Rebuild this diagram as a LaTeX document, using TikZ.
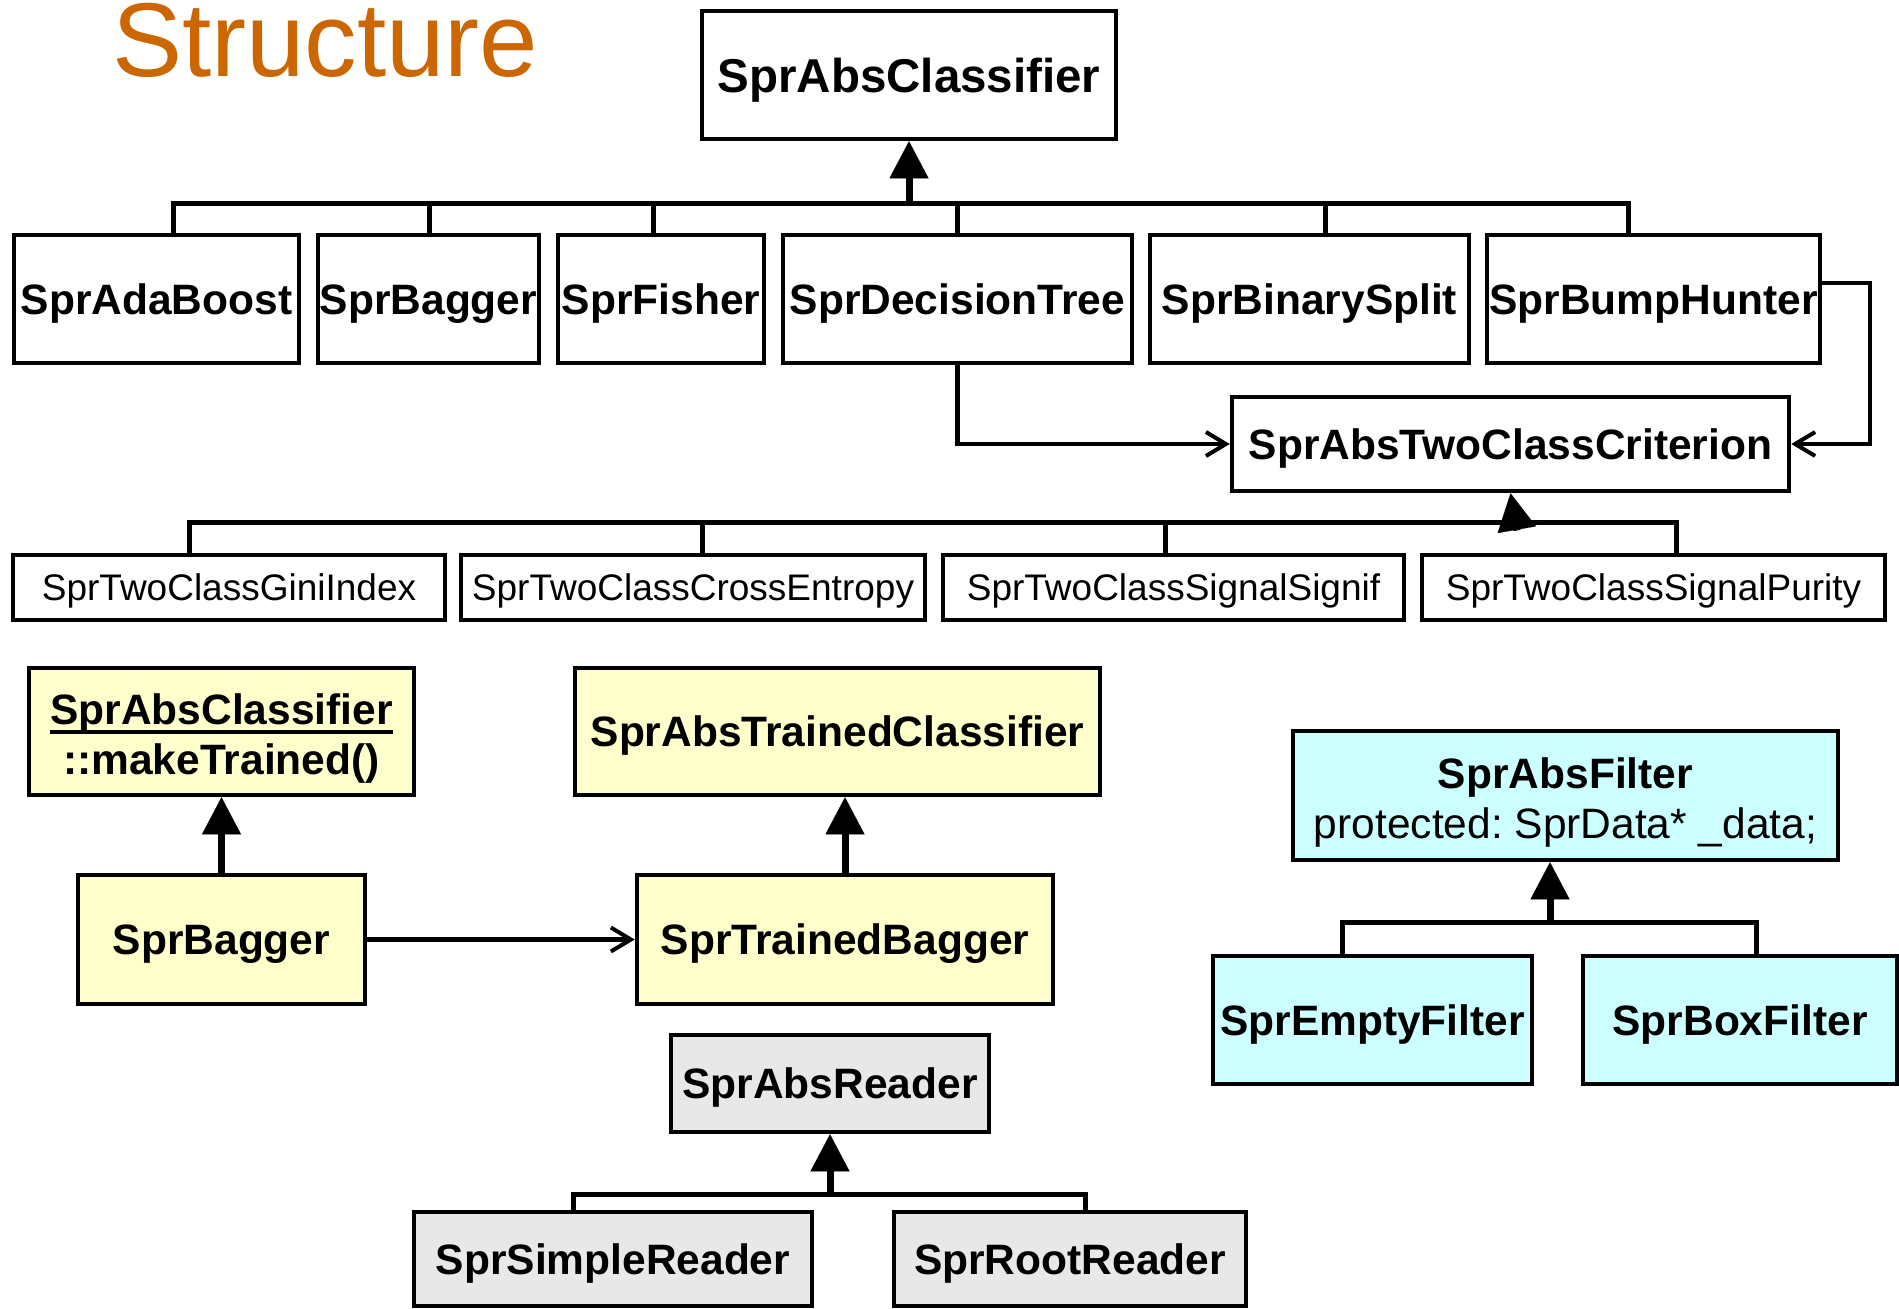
\documentclass[tikz,border=0pt]{standalone}
\usepackage{fontspec}
\setmainfont{Liberation Sans}
\usetikzlibrary{arrows.meta}
\frenchspacing
\definecolor{titleor}{RGB}{204,102,0}
\definecolor{yel}{RGB}{255,255,204}
\definecolor{cyn}{RGB}{204,255,255}
\definecolor{gry}{RGB}{232,232,232}
\newcommand\ulbox[1]{\setbox0\hbox{#1}\rlap{\rule[-9pt]{\wd0}{4pt}}\box0}
\tikzset{
  box/.style={draw, line width=4.5pt, inner sep=0pt, fill=white},
  big/.style={font=\fontsize{42.5}{50}\selectfont\bfseries, text height=30.4pt, text depth=0pt},
  bigml/.style={font=\fontsize{42.5}{50}\selectfont, align=center, text height=86.4pt, text depth=0pt},
  small/.style={font=\fontsize{37}{44}\selectfont, text height=26.5pt, text depth=0pt},
  conn/.style={line width=5pt, line join=miter},
  inh/.style={line width=7pt, -{Triangle[length=37pt,width=39pt,line width=0.1pt]}},
  assoc/.style={line width=4.5pt, line join=miter, -{Straight Barb[length=20pt,width=24pt,line width=4pt]}},
}
\begin{document}
\begin{tikzpicture}[x=1pt,y=-1pt]
\useasboundingbox (0,0) rectangle (1899,1309);

% title
\node[anchor=base west, inner sep=0pt, font=\fontsize{105}{120}\selectfont, text=titleor] (title) at (112,76) {Structure};

% top classifier hierarchy
\node[box, big, font=\fontsize{47.5}{56}\selectfont\bfseries, text height=34pt, minimum width=414pt, minimum height=128pt] (absclf) at (909,75) {SprAbsClassifier};
\node[box, big, minimum width=285pt, minimum height=128pt] (ada)  at (156.5,299) {SprAdaBoost};
\node[box, big, minimum width=221pt, minimum height=128pt] (bag)  at (428.5,299) {SprBagger};
\node[box, big, minimum width=206pt, minimum height=128pt] (fis)  at (661,299) {SprFisher};
\node[box, big, minimum width=349pt, minimum height=128pt] (dt)   at (957.5,299) {SprDecisionTree};
\node[box, big, minimum width=319pt, minimum height=128pt] (bin)  at (1309.5,299) {SprBinarySplit};
\node[box, big, minimum width=333pt, minimum height=128pt] (bump) at (1653.5,299) {SprBumpHunter};

\coordinate (j1) at (909,203.5);
\coordinate (ta) at (173,203.5);
\coordinate (tb) at (429,203.5);
\coordinate (tf) at (653,203.5);
\coordinate (td) at (957.5,203.5);
\coordinate (tn) at (1325,203.5);
\coordinate (tu) at (1628,203.5);
\draw[conn] (ta |- ada.north) -- (ta) -- (tu) -- (tu |- bump.north);
\draw[conn] (tb) -- (tb |- bag.north);
\draw[conn] (tf) -- (tf |- fis.north);
\draw[conn] (td) -- (td |- dt.north);
\draw[conn] (tn) -- (tn |- bin.north);
\draw[inh] (j1) -- (absclf.south);

% criterion
\node[box, big, minimum width=557pt, minimum height=94pt] (crit) at (1510.5,444) {SprAbsTwoClassCriterion};
\coordinate (rc) at (1870,444);
\draw[assoc] (dt.south) |- (crit.west);
\draw[assoc] ([yshift=16pt]bump.east) -| (rc) -- (crit.east);

\node[box, small, minimum width=432pt, minimum height=65pt] (gini)   at (229,587.5) {SprTwoClassGiniIndex};
\node[box, small, minimum width=464pt, minimum height=65pt] (cross)  at (693,587.5) {SprTwoClassCrossEntropy};
\node[box, small, minimum width=461pt, minimum height=65pt] (signif) at (1173.5,587.5) {SprTwoClassSignalSignif};
\node[box, small, minimum width=463pt, minimum height=65pt] (purity) at (1653.5,587.5) {SprTwoClassSignalPurity};

\coordinate (j2) at (1517,522.5);
\coordinate (sa) at (189,522.5);
\coordinate (sb) at (702,522.5);
\coordinate (sc) at (1165,522.5);
\coordinate (sd) at (1676,522.5);
\draw[conn] (sa |- gini.north) -- (sa) -- (sd) -- (sd |- purity.north);
\draw[conn] (sb) -- (sb |- cross.north);
\draw[conn] (sc) -- (sc |- signif.north);
\draw[inh] ([yshift=-8pt]j2) -- (crit.south);

% yellow: bagger / trained
\node[box, fill=yel, bigml, font=\fontsize{42.5}{50}\selectfont\bfseries, minimum width=385pt, minimum height=127pt] (mk) at (221.5,731.5) {\ulbox{SprAbsClassifier}\\::makeTrained()};
\node[box, fill=yel, big, minimum width=525pt, minimum height=127pt] (atc) at (837.5,731.5) {SprAbsTrainedClassifier};
\node[box, fill=yel, big, minimum width=287pt, minimum height=129pt] (sbag) at (221.5,939.5) {SprBagger};
\node[box, fill=yel, big, minimum width=416pt, minimum height=129pt] (tbag) at (845,939.5) {SprTrainedBagger};
\draw[inh] (sbag.north) -- (mk.south);
\draw[inh] (tbag.north) -- (tbag.north |- atc.south);
\draw[assoc] (sbag.east) -- (tbag.west);

% gray: readers
\node[box, fill=gry, big, minimum width=318pt, minimum height=97pt] (ard) at (830,1083.5) {SprAbsReader};
\node[box, fill=gry, big, minimum width=398pt, minimum height=94pt] (simple) at (613,1259) {SprSimpleReader};
\node[box, fill=gry, big, minimum width=352pt, minimum height=94pt] (root) at (1070,1259) {SprRootReader};
\coordinate (j3) at (830,1194);
\coordinate (ra) at (573,1194);
\coordinate (rb) at (1085,1194);
\draw[conn] (ra |- simple.north) -- (ra) -- (rb) -- (rb |- root.north);
\draw[inh] (j3) -- (ard.south);

% cyan: filters
\node[box, fill=cyn, bigml, minimum width=545pt, minimum height=129pt] (af) at (1565.5,795.5) {\textbf{SprAbsFilter}\\protected: SprData* \_data;};
\node[box, fill=cyn, big, minimum width=319pt, minimum height=128pt] (ef) at (1372.5,1020) {SprEmptyFilter};
\node[box, fill=cyn, big, minimum width=314pt, minimum height=128pt] (bf) at (1740,1020) {SprBoxFilter};
\coordinate (j4) at (1550,922);
\coordinate (ca) at (1342,922);
\coordinate (cb) at (1756,922);
\draw[conn] (ca |- ef.north) -- (ca) -- (cb) -- (cb |- bf.north);
\draw[inh] (j4) -- (j4 |- af.south);
\end{tikzpicture}
\end{document}
